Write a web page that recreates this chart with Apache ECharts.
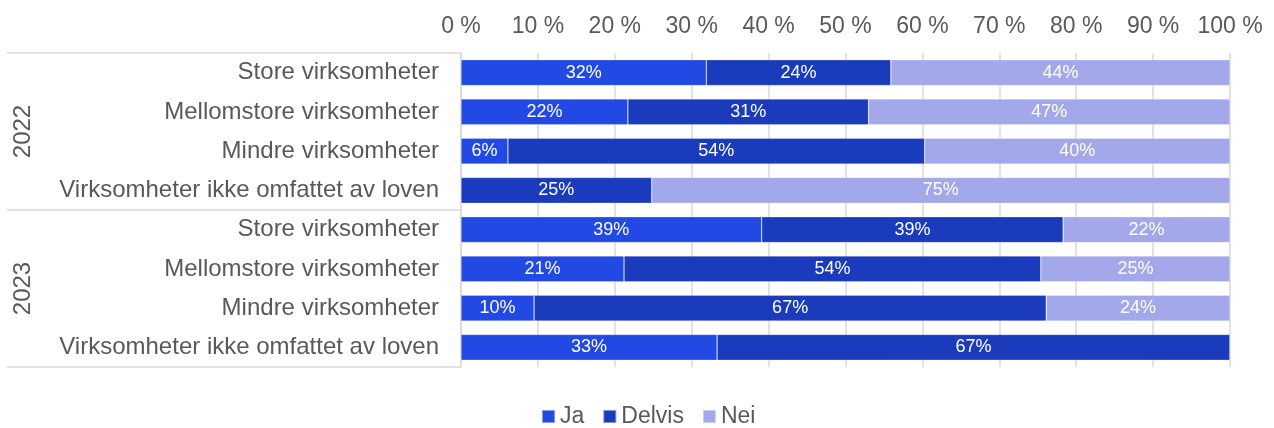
<!DOCTYPE html>
<html>
<head>
<meta charset="utf-8">
<script src="https://cdn.jsdelivr.net/npm/echarts@6/dist/echarts.min.js"></script>
<style>
html,body{margin:0;padding:0;background:#fff;}
#chart{width:1274px;height:428px;}
</style>
</head>
<body>
<div id="chart"></div>
<script>
const categories = [
  'Store virksomheter', 'Mellomstore virksomheter', 'Mindre virksomheter', 'Virksomheter ikke omfattet av loven',
  'Store virksomheter ', 'Mellomstore virksomheter ', 'Mindre virksomheter ', 'Virksomheter ikke omfattet av loven '
];
const groups = ['2022', '2023'];
const seriesNames = ['Ja', 'Delvis', 'Nei'];
const ja     = [31.9, 21.7, 6.1, 0,    39.1, 21.2, 9.5,  33.3];
const delvis = [24.0, 31.3, 54.2, 24.8, 39.2, 54.2, 66.6, 66.7];
const nei    = [44.1, 47.0, 39.7, 75.2, 21.7, 24.6, 23.9, 0];
const xTicks = { min: 0, max: 100, interval: 10 };

const colors = ['#2249e3', '#1a3bbb', '#a3a8eb'];
const FONT = '"Liberation Sans", Arial, sans-serif';
const values = [ja, delvis, nei];

const chart = echarts.init(document.getElementById('chart'));
chart.setOption({
  animation: false,
  textStyle: { fontFamily: FONT },
  grid: { left: 461, right: 44, top: 53, bottom: 61, containLabel: false },
  legend: {
    bottom: 0,
    left: 541,
    padding: 0,
    itemWidth: 13,
    itemHeight: 13,
    itemGap: 18,
    icon: 'rect',
    textStyle: { fontSize: 23, color: '#595959', fontFamily: FONT },
    data: seriesNames
  },
  xAxis: {
    type: 'value',
    position: 'top',
    min: xTicks.min, max: xTicks.max, interval: xTicks.interval,
    axisLine: { show: false },
    axisTick: { show: false },
    axisLabel: { formatter: '{value} %', fontSize: 23, color: '#595959', margin: 15, fontFamily: FONT },
    splitLine: { show: true, lineStyle: { color: '#d9d9d9', width: 1.5 } }
  },
  yAxis: [
    {
      type: 'category',
      inverse: true,
      position: 'left',
      data: categories,
      axisLine: { show: true, lineStyle: { color: '#d9d9d9', width: 1.5 } },
      axisTick: { show: false },
      axisLabel: { fontSize: 24, color: '#595959', margin: 22, fontFamily: FONT, formatter: v => v.trim() }
    },
    {
      type: 'category',
      inverse: true,
      position: 'left',
      data: groups,
      axisLine: { show: false },
      axisTick: { show: true, length: 454, lineStyle: { color: '#d9d9d9', width: 1.5 } },
      axisLabel: { rotate: 90, fontSize: 24, color: '#595959', margin: 426, fontFamily: FONT },
      splitLine: { show: false }
    }
  ],
  series: seriesNames.map((name, i) => ({
    name,
    type: 'bar',
    stack: 'total',
    yAxisIndex: 0,
    barCategoryGap: '34%',
    data: values[i],
    itemStyle: { color: colors[i], borderColor: 'rgba(255,255,255,0.45)', borderWidth: 0.6 },
    label: {
      show: true,
      position: 'inside',
      color: '#ffffff',
      fontSize: 18,
      fontFamily: FONT,
      formatter: p => p.value > 0 ? Math.round(p.value) + '%' : ''
    }
  }))
});
</script>
</body>
</html>
